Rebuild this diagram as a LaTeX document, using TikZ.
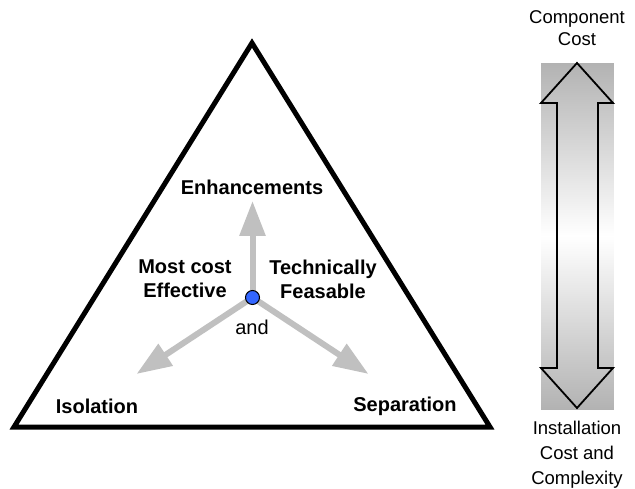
\documentclass[tikz,border=0pt]{standalone}
\usepackage{fontspec}
\setmainfont{Liberation Sans}
\usetikzlibrary{arrows.meta}
\definecolor{hubblue}{RGB}{51,102,255}
\definecolor{spokegray}{RGB}{192,192,192}
\begin{document}
\begin{tikzpicture}[x=1pt,y=-1pt,
  corner/.style={font=\fontsize{20}{24}\selectfont\bfseries,align=center,inner sep=0pt},
  side/.style={font=\fontsize{18.5}{25}\selectfont,align=center,inner sep=0pt},
  spoke/.style={color=spokegray,line width=6pt,-{Triangle[length=35pt,width=25pt]}}]
\useasboundingbox (0,0) rectangle (635,489);
% triangle
\coordinate (L) at (14,427);
\coordinate (T) at (252,43);
\coordinate (R) at (490,427);
\draw[line width=5pt,line join=miter] (L) -- (T) -- (R) -- cycle;
\node[corner] (enh) at (252,187) {Enhancements};
\node[corner] (iso) at (97,406) {Isolation};
\node[corner] (sep) at (405,406) {Separation};
\node[corner] (eff) at (185,279) {Most cost\\Effective};
\node[corner] (tec) at (323,279) {Technically\\Feasable};
\node[font=\fontsize{20}{24}\selectfont,inner sep=0pt] (and) at (252,327) {and};
% spokes from the hub
\coordinate (hubpt) at (252.5,297.5);
\coordinate (upTip) at (252.5,201);
\coordinate (leftTip) at (136.5,374);
\coordinate (rightTip) at (368.5,374);
\draw[spoke] (hubpt) -- (upTip);
\draw[spoke] (hubpt) -- (leftTip);
\draw[spoke] (hubpt) -- (rightTip);
\node[draw=black,fill=hubblue,circle,line width=1pt,minimum size=14pt,inner sep=0pt] (hub) at (hubpt) {};
% cost bar, gray to white to gray
\foreach \i in {0,...,173} {
  \pgfmathsetmacro\shadeval{60*(1-\i/173)}
  \fill[gray!\shadeval] (541,63+\i) rectangle (614,64.2+\i);
  \fill[gray!\shadeval] (541,410-\i) rectangle (614,408.8-\i);
}
\draw[line width=1.8pt,line join=miter] (577,63) -- (613,103) -- (598,103) -- (598,368) -- (613,368) -- (577,408)
  -- (541,368) -- (557,368) -- (557,103) -- (541,103) -- cycle;
\draw[white,line width=1pt] (558,236) -- (597,236);
\node[side,font=\fontsize{18.5}{22}\selectfont] (top) at (577,28) {Component\\Cost};
\node[side] (bot) at (577,455) {Installation\\Cost and\\Complexity};
\end{tikzpicture}
\end{document}
